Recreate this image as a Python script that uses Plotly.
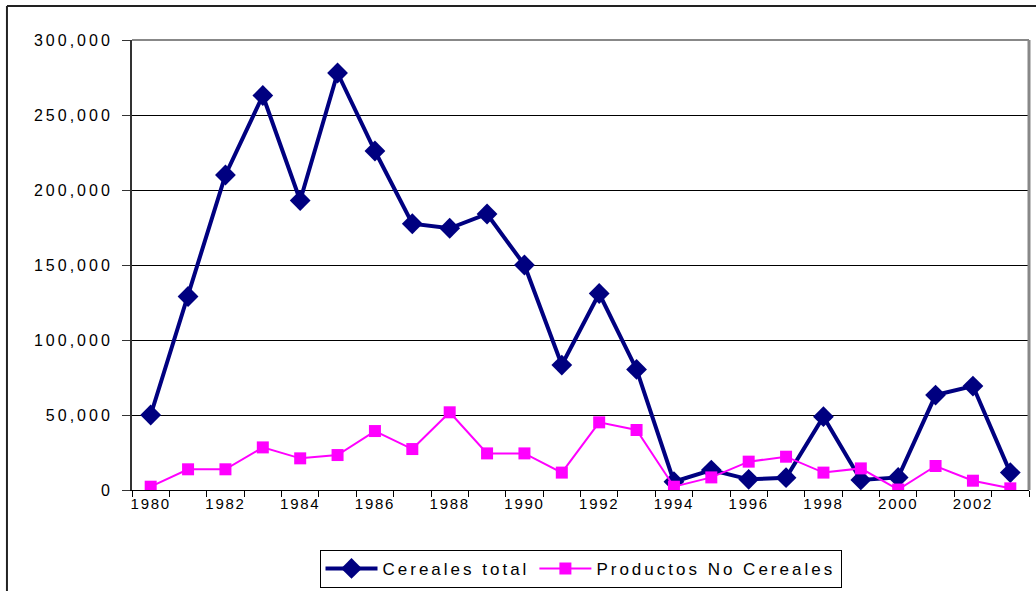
import plotly.graph_objects as go

years = list(range(1980, 2004))
cereales = [50000, 129000, 210000, 263000, 193000, 278000, 226000, 177500, 174500, 184000,
            150000, 83300, 131000, 80400, 5500, 13300, 7100, 8200, 48900, 6700,
            8400, 63300, 69300, 11600]
no_cereales = [2200, 13800, 13800, 28400, 21100, 23300, 39300, 27300, 51800, 24400,
               24400, 11600, 45100, 40000, 2200, 8400, 18900, 22200, 11600, 14400,
               300, 16000, 6200, 1100]

font = "Liberation Sans, Arial, sans-serif"

fig = go.Figure()
fig.add_trace(go.Scatter(x=years, y=cereales, name="Cereales total", mode="lines+markers",
                         line=dict(color="#000080", width=4),
                         marker=dict(symbol="diamond", size=16, color="#000080")))
fig.add_trace(go.Scatter(x=years, y=no_cereales, name="Productos No Cereales", mode="lines+markers",
                         line=dict(color="#FF00FF", width=2),
                         marker=dict(symbol="square", size=12, color="#FF00FF")))

# category boundaries for the small tick marks
bounds = [years[0] - 0.5 + i for i in range(len(years) + 1)]

fig.update_layout(
    width=1036, height=591,
    margin=dict(l=132, r=7, t=40, b=101, autoexpand=False),
    paper_bgcolor="white", plot_bgcolor="white",
    font=dict(family=font, size=15, color="black"),
    showlegend=True,
    legend=dict(orientation="h", x=0.5, xanchor="center", y=-0.133, yanchor="top",
                bordercolor="black", borderwidth=1, font=dict(size=17),
                itemwidth=52),
    xaxis=dict(range=[years[0] - 0.5, years[-1] + 0.5], tickvals=years[::2],
               ticks="", showgrid=False, zeroline=False, showline=True,
               linecolor="black", linewidth=1, tickfont=dict(size=15),
               minor=dict(tickvals=bounds, ticks="outside", ticklen=6, tickcolor="black",
                          showgrid=False)),
    yaxis=dict(range=[0, 300000], dtick=50000, tickformat=",", ticks="outside", ticklen=8,
               tickcolor="#333", showgrid=True, gridcolor="black", gridwidth=1,
               zeroline=False, showline=True, linecolor="#333", linewidth=2,
               ticklabelstandoff=6, tickfont=dict(size=16)),
    shapes=[
        dict(type="line", xref="paper", yref="paper", x0=0, x1=1, y0=1, y1=1,
             line=dict(color="#888", width=2)),
        dict(type="line", xref="paper", yref="paper", x0=1, x1=1, y0=0, y1=1,
             line=dict(color="#888", width=3)),
        dict(type="line", xref="paper", yref="paper", x0=-0.1394, x1=1.01, y0=1.0756, y1=1.0756,
             line=dict(color="#222", width=2)),
        dict(type="line", xref="paper", yref="paper", x0=-0.1394, x1=-0.1394, y0=1.0756, y1=-0.25,
             line=dict(color="#222", width=2)),
    ],
)

# the original text is letter-spaced; plotly has no option for that, so add it with css.
# the legend font family is then swapped for an equivalent one so plotly measures the
# legend text again (with the spacing) instead of reusing its cached size
post = """
var gd = document.getElementById('{plot_id}');
document.body.style.margin = '0';
var st = document.createElement('style');
st.textContent = '.ytick text{letter-spacing:3px}.xtick text{letter-spacing:1.7px}.legendtext{letter-spacing:3px}';
document.head.appendChild(st);
Plotly.relayout(gd, {'legend.font.family': 'Liberation Sans, Arial'});
"""

fig.write_html("out.html", post_script=post, config={"displayModeBar": False})
